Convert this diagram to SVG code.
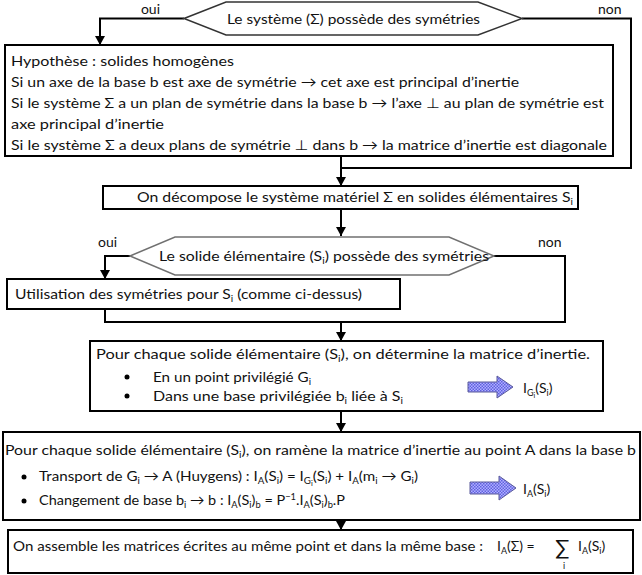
<svg xmlns="http://www.w3.org/2000/svg" width="642" height="575" viewBox="0 0 642 575">
<defs>
<marker id="ah" markerWidth="9" markerHeight="10" refX="9" refY="5" orient="auto" markerUnits="userSpaceOnUse">
<path d="M0,0 L9,5 L0,10 z" fill="#000"/>
</marker>
<pattern id="chk" width="3" height="3" patternUnits="userSpaceOnUse">
<rect width="3" height="3" fill="#b0b0ff"/>
<rect width="1.5" height="1.5" fill="#6060e0"/>
<rect x="1.5" y="1.5" width="1.5" height="1.5" fill="#6060e0"/>
</pattern>
<style>
text{font-family:Lato,"DejaVu Sans",sans-serif;font-size:14px;fill:#111}
.box{fill:#fff;stroke:#000;stroke-width:2}
.hex1{fill:#fff;stroke:#333;stroke-width:1.5}
.hex2{fill:#fff;stroke:#707070;stroke-width:1.5}
.con{fill:none;stroke:#000;stroke-width:2}
.s{font-size:9px}
.ss{font-size:7px}
.icon{fill:url(#chk);stroke:#5a5a9a;stroke-width:1}
.dot{fill:#000}
</style>
</defs>

<g id="connectors">
<path class="con" d="M184,18.5 H100 V45" marker-end="url(#ah)"/>
<path class="con" d="M522,18.5 H631 V168 H341"/>
<path class="con" d="M341,156 V186" marker-end="url(#ah)"/>
<path class="con" d="M341,209 V236" marker-end="url(#ah)"/>
<path class="con" d="M130,256 H105 V279" marker-end="url(#ah)"/>
<path class="con" d="M494,256 H565 V322 H105 V309"/>
<path class="con" d="M341,322 V341" marker-end="url(#ah)"/>
<path class="con" d="M341,411 V432" marker-end="url(#ah)"/>
<path class="con" d="M341,520 V530" marker-end="url(#ah)"/>
<text x="160" y="14" text-anchor="end">oui</text>
<text x="598" y="14">non</text>
<text x="98" y="247">oui</text>
<text x="538" y="247">non</text>
</g>

<g id="q1">
<path class="hex1" d="M184,18.5 L226,2 L478,2 L522,18.5 L478,35 L226,35 Z"/>
<text x="227" y="23.5" textLength="253" lengthAdjust="spacingAndGlyphs">Le système (Σ) possède des symétries</text>
</g>

<g id="box1">
<rect class="box" x="5" y="45" width="608" height="111"/>
<text x="11" y="66" textLength="223" lengthAdjust="spacingAndGlyphs">Hypothèse : solides homogènes</text>
<text x="11" y="87" textLength="508" lengthAdjust="spacingAndGlyphs">Si un axe de la base b est axe de symétrie →  cet axe est principal d’inertie</text>
<text x="11" y="108" textLength="593" lengthAdjust="spacingAndGlyphs">Si le système Σ a un plan de symétrie dans la base b → l’axe ⊥  au plan de symétrie est</text>
<text x="11" y="129" textLength="153" lengthAdjust="spacingAndGlyphs">axe principal d’inertie</text>
<text x="11" y="150" textLength="596" lengthAdjust="spacingAndGlyphs">Si le système Σ a deux plans de symétrie ⊥  dans b → la matrice d’inertie est diagonale</text>
</g>

<g id="box2">
<rect class="box" x="103" y="186" width="475" height="23"/>
<text x="137" y="202" textLength="436" lengthAdjust="spacingAndGlyphs">On décompose le système matériel Σ en solides élémentaires S<tspan class="s" dy="3">i</tspan></text>
</g>

<g id="q2">
<path class="hex2" d="M130,256 L175,237 L449,237 L494,256 L449,275 L175,275 Z"/>
<text x="159" y="261" textLength="330" lengthAdjust="spacingAndGlyphs">Le solide élémentaire (S<tspan class="s" dy="3">i</tspan><tspan dy="-3">) possède des symétries</tspan></text>
</g>

<g id="box3">
<rect class="box" x="7" y="279" width="393" height="30"/>
<text x="15" y="299" textLength="347" lengthAdjust="spacingAndGlyphs">Utilisation des symétries pour S<tspan class="s" dy="3">i</tspan><tspan dy="-3"> (comme ci-dessus)</tspan></text>
</g>

<g id="box4">
<rect class="box" x="90" y="341" width="513" height="70"/>
<text x="96" y="359" textLength="494" lengthAdjust="spacingAndGlyphs">Pour chaque solide élémentaire (S<tspan class="s" dy="3">i</tspan><tspan dy="-3">), on détermine la matrice d’inertie.</tspan></text>
<circle class="dot" cx="127" cy="377" r="2.5"/>
<text x="153" y="382" textLength="158" lengthAdjust="spacingAndGlyphs">En un point privilégié G<tspan class="s" dy="3">i</tspan></text>
<circle class="dot" cx="127" cy="396" r="2.5"/>
<text x="153" y="401" textLength="250" lengthAdjust="spacingAndGlyphs">Dans une base privilégiée b<tspan class="s" dy="3">i</tspan><tspan dy="-3"> liée à S</tspan><tspan class="s" dy="3">i</tspan></text>
<path class="icon" d="M468,382 H497 V376 L513,387 L497,398 V392 H468 Z"/>
<text x="523" y="393">I<tspan class="s" dy="3">G</tspan><tspan class="ss" dy="2">i</tspan><tspan dy="-5">(S</tspan><tspan class="s" dy="3">i</tspan><tspan dy="-3">)</tspan></text>
</g>

<g id="box5">
<rect class="box" x="3" y="432" width="637" height="88"/>
<text x="5" y="455" textLength="631" lengthAdjust="spacingAndGlyphs">Pour chaque solide élémentaire (S<tspan class="s" dy="3">i</tspan><tspan dy="-3">), on ramène la matrice d’inertie au point A dans la base b</tspan></text>
<circle class="dot" cx="24" cy="477" r="2.5"/>
<text x="39" y="481" textLength="379" lengthAdjust="spacingAndGlyphs">Transport de G<tspan class="s" dy="3">i</tspan><tspan dy="-3"> → A (Huygens) : I</tspan><tspan class="s" dy="3">A</tspan><tspan dy="-3">(S</tspan><tspan class="s" dy="3">i</tspan><tspan dy="-3">) = I</tspan><tspan class="s" dy="3">G</tspan><tspan class="ss" dy="2">i</tspan><tspan dy="-5">(S</tspan><tspan class="s" dy="3">i</tspan><tspan dy="-3">) + I</tspan><tspan class="s" dy="3">A</tspan><tspan dy="-3">(m</tspan><tspan class="s" dy="3">i</tspan><tspan dy="-3"> → G</tspan><tspan class="s" dy="3">i</tspan><tspan dy="-3">)</tspan></text>
<circle class="dot" cx="24" cy="501" r="2.5"/>
<text x="39" y="505" textLength="306" lengthAdjust="spacingAndGlyphs">Changement de base b<tspan class="s" dy="3">i</tspan><tspan dy="-3"> → b : I</tspan><tspan class="s" dy="3">A</tspan><tspan dy="-3">(S</tspan><tspan class="s" dy="3">i</tspan><tspan dy="-3">)</tspan><tspan class="s" dy="3">b</tspan><tspan dy="-3"> = P</tspan><tspan class="s" dy="-5">−1</tspan><tspan dy="5">.I</tspan><tspan class="s" dy="3">A</tspan><tspan dy="-3">(S</tspan><tspan class="s" dy="3">i</tspan><tspan dy="-3">)</tspan><tspan class="s" dy="3">b</tspan><tspan dy="-3">.P</tspan></text>
<path class="icon" d="M470,482 H499 V476 L516,488 L499,500 V494 H470 Z"/>
<text x="523" y="494">I<tspan class="s" dy="3">A</tspan><tspan dy="-3">(S</tspan><tspan class="s" dy="3">i</tspan><tspan dy="-3">)</tspan></text>
</g>

<g id="box6">
<rect class="box" x="8" y="530" width="625" height="43"/>
<text x="13" y="551" textLength="470" lengthAdjust="spacingAndGlyphs">On assemble les matrices écrites au même point et dans la même base :</text>
<text x="497" y="551">I<tspan class="s" dy="3">A</tspan><tspan dy="-3">(Σ) =</tspan></text>
<text x="555" y="555" style="font-size:21px">∑</text>
<text x="563" y="569" class="s">i</text>
<text x="578" y="551">I<tspan class="s" dy="3">A</tspan><tspan dy="-3">(S</tspan><tspan class="s" dy="3">i</tspan><tspan dy="-3">)</tspan></text>
</g>
</svg>
